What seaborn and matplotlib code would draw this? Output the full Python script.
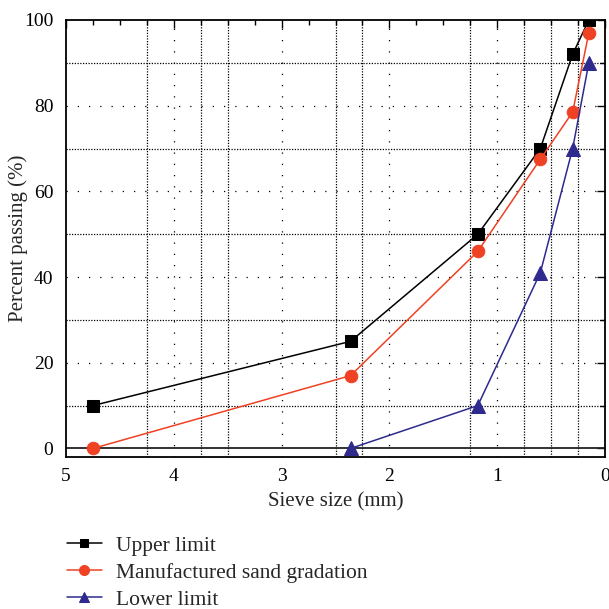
import matplotlib
matplotlib.use("Agg")
import matplotlib.pyplot as plt
from matplotlib.ticker import MultipleLocator
import numpy as np
import pandas as pd
import seaborn as sns

# Sieve sizes (mm) and cumulative percent passing
sieve = [4.75, 2.36, 1.18, 0.6, 0.3, 0.15]
upper = [10, 25, 50, 70, 92, 100]
sand = [0, 17, 46, 67.5, 78.5, 97]
lower_sieve = [2.36, 1.18, 0.6, 0.3, 0.15]
lower = [0, 10, 41, 70, 90]

labels = ["Upper limit", "Manufactured sand gradation", "Lower limit"]

df = pd.concat([
    pd.DataFrame({"size": sieve, "pct": upper, "series": labels[0]}),
    pd.DataFrame({"size": sieve, "pct": sand, "series": labels[1]}),
    pd.DataFrame({"size": lower_sieve, "pct": lower, "series": labels[2]}),
], ignore_index=True)

sns.set_style("white")
plt.rcParams["font.family"] = ["Liberation Serif", "DejaVu Serif"]

colors = {labels[0]: "#000000", labels[1]: "#ef4123", labels[2]: "#2e2a8e"}
markers = {labels[0]: "s", labels[1]: "o", labels[2]: "^"}
msizes = {labels[0]: 8, labels[1]: 9, labels[2]: 9.5}

fig = plt.figure(figsize=(6.09, 6.09), dpi=100)
ax = fig.add_axes([66 / 609, 1 - 457 / 609, 539 / 609, 437 / 609])

# grid: sparse dots at major ticks, dense dots at selected minor positions
for v in [4, 3, 2, 1]:
    ax.axvline(v, color="black", lw=0.9, ls=(0, (1, 8)), zorder=0)
for v in [4.25, 3.75, 3.5, 2.5, 2.25, 1.25, 0.75, 0.5, 0.25]:
    ax.axvline(v, color="black", lw=0.9, ls=(0, (1, 1.2)), zorder=0)
for v in [20, 40, 60, 80]:
    ax.axhline(v, color="black", lw=0.9, ls=(0, (1, 8)), zorder=0)
for v in [10, 30, 50, 70, 90]:
    ax.axhline(v, color="black", lw=0.9, ls=(0, (1, 1.2)), zorder=0)
ax.axhline(0, color="#222222", lw=1.3, zorder=1)

for lab in labels:
    sub = df[df["series"] == lab]
    sns.lineplot(data=sub, x="size", y="pct", ax=ax, color=colors[lab],
                 marker=markers[lab], markersize=msizes[lab],
                 markeredgecolor=colors[lab], lw=1.1, sort=False,
                 label=lab, zorder=3)

ax.set_xlim(5, 0)
ax.set_ylim(-2, 100)
ax.xaxis.set_major_locator(MultipleLocator(1))
ax.xaxis.set_minor_locator(MultipleLocator(0.25))
ax.yaxis.set_major_locator(MultipleLocator(20))
ax.yaxis.set_minor_locator(MultipleLocator(10))
ax.tick_params(which="both", direction="in", top=True, right=True,
               labelsize=14, colors="black")
ax.tick_params(which="major", length=6, width=1)
ax.tick_params(which="minor", length=3.5, width=1)
ax.tick_params(axis="x", pad=8)
ax.tick_params(axis="y", pad=9)
for s in ax.spines.values():
    s.set_visible(True)
    s.set_color("black")
    s.set_linewidth(1.3)

ax.set_xlabel("Sieve size (mm)", fontsize=15, labelpad=5)
ax.set_ylabel("Percent passing (%)", fontsize=15)
ax.yaxis.set_label_coords(-0.071, 0.5)

h, l = ax.get_legend_handles_labels()
ax.get_legend().remove()
fig.legend(h, l, loc="upper left", bbox_to_anchor=(58 / 609, 1 - 527 / 609),
           frameon=False, fontsize=15.5, handlelength=1.65, handletextpad=0.65,
           labelspacing=0.32, borderaxespad=0, markerscale=0.8)

fig.savefig("out.png", dpi=100)
